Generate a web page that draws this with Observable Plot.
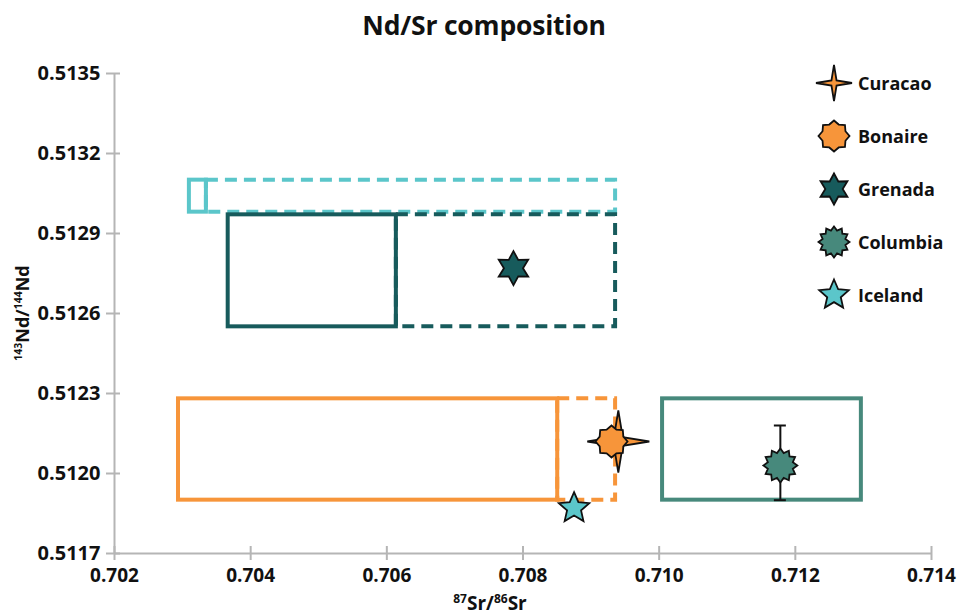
<!DOCTYPE html>
<html>
<head>
<meta charset="utf-8">
<script src="https://cdn.jsdelivr.net/npm/d3@7"></script>
<script src="https://cdn.jsdelivr.net/npm/@observablehq/plot@0.6"></script>
<style>
  html, body { margin: 0; padding: 0; background: #fff; }
  body { font-family: "Open Sans", sans-serif; }
  #wrap { position: relative; width: 960px; height: 616px; overflow: hidden; background: #fff; }
  #chart svg { position: absolute; left: 0; top: 0; z-index: 0; }
  #title { position: absolute; z-index: 2; left: 0; width: 968px; top: 7px; text-align: center;
           font-weight: 700; font-size: 26.5px; color: #111; letter-spacing: -0.2px; }
  .axlabel { position: absolute; z-index: 2; font-weight: 700; font-size: 19px; color: #111; white-space: nowrap; }
  .axlabel sup { font-size: 12px; vertical-align: 0; position: relative; top: -7px; }
  #xlabel { left: 0; width: 980px; text-align: center; top: 590px; }
  #ylabel { left: 22px; top: 313px; font-size: 18px; transform: translate(-50%, -50%) rotate(-90deg); }
  #ylabel sup { font-size: 10.5px; top: -7px; }
  #legend { position: absolute; z-index: 2; left: 812px; top: 56px; }
  .item { display: flex; align-items: center; height: 53px; }
  .item svg { width: 44px; height: 44px; }
  .item span { font-weight: 700; font-size: 18px; color: #111; margin-left: 2px; }
</style>
</head>
<body>
<div id="wrap">
  <div id="chart"></div>
  <div id="title">Nd/Sr composition</div>
  <div id="ylabel" class="axlabel"><sup>143</sup>Nd/<sup>144</sup>Nd</div>
  <div id="xlabel" class="axlabel"><sup>87</sup>Sr/<sup>86</sup>Sr</div>
  <div id="legend"></div>
</div>
<script>
// Sample sites, their isotope ratios and marker styles
const sites   = ["Curacao", "Bonaire", "Grenada", "Columbia", "Iceland"];
const srRatio = [0.70940, 0.70930, 0.70786, 0.71178, 0.70875];
const ndRatio = [0.51212, 0.51212, 0.51277, 0.51203, 0.51187];
const colors  = ["#F7953A", "#F7953A", "#175B5C", "#47897C", "#5BC6CA"];

// Columbia Nd uncertainty range
const columbiaNdLow  = 0.51190;
const columbiaNdHigh = 0.51218;

// Composition fields (solid = measured range, dashed = extended range)
const boxColor  = ["#5BC6CA", "#5BC6CA", "#175B5C", "#175B5C", "#F7953A", "#F7953A", "#47897C"];
const boxSr0    = [0.70335, 0.70310, 0.70614, 0.70367, 0.70851, 0.70294, 0.71005];
const boxSr1    = [0.70936, 0.70335, 0.70936, 0.70614, 0.70936, 0.70851, 0.71297];
const boxNd0    = [0.51298, 0.51298, 0.51255, 0.51255, 0.51190, 0.51190, 0.51190];
const boxNd1    = [0.51310, 0.51310, 0.51297, 0.51297, 0.51228, 0.51228, 0.51228];
const boxDashed = [true, false, true, false, true, false, false];

// Axis ticks
const xTicks = [0.702, 0.704, 0.706, 0.708, 0.710, 0.712, 0.714];
const yTicks = [0.5117, 0.5120, 0.5123, 0.5126, 0.5129, 0.5132, 0.5135];

// Star-shaped marker: n points, inner radius as a fraction of the outer one
function star(n, inner) {
  return {
    draw(context, size) {
      const R = Math.sqrt(size / Math.PI);
      for (let i = 0; i < 2 * n; i++) {
        const a = (i * Math.PI) / n - Math.PI / 2;
        const r = i % 2 === 0 ? R : R * inner;
        const px = r * Math.cos(a), py = r * Math.sin(a);
        if (i === 0) context.moveTo(px, py); else context.lineTo(px, py);
      }
      context.closePath();
    }
  };
}
const symbols = [star(4, 0.2), star(8, 0.8), star(6, 0.56), star(12, 0.76), star(5, 0.46)];
const radii   = [31, 16, 17, 17, 16];
const legendR = [18, 15.5, 15.5, 15.5, 15.5];

const boxes = boxColor.map((c, i) => ({c, x1: boxSr0[i], x2: boxSr1[i], y1: boxNd0[i], y2: boxNd1[i], dashed: boxDashed[i]}));
const dashedBoxes = boxes.filter(b => b.dashed);
const solidBoxes = boxes.filter(b => !b.dashed);

const idx = (name) => sites.indexOf(name);
const siteDot = (name) => {
  const i = idx(name);
  return Plot.dot([i], {
    x: d => srRatio[d], y: d => ndRatio[d],
    symbol: symbols[i], r: radii[i],
    fill: colors[i], stroke: "#111", strokeWidth: 1.8, strokeLinejoin: "miter"
  });
};

const axisColor = "#b5b5b5";
const ci = idx("Columbia");

const chart = Plot.plot({
  width: 960,
  height: 616,
  marginLeft: 114,
  marginRight: 29,
  marginTop: 73,
  marginBottom: 63,
  style: {fontFamily: "'Open Sans', sans-serif", fontSize: "20px", fontWeight: 700, color: "#111", background: "transparent"},
  x: {domain: [0.702, 0.714], label: null},
  y: {domain: [0.5117, 0.5135], label: null},
  marks: [
    // axis lines and crossing ticks
    Plot.ruleX([0.702], {stroke: axisColor, strokeWidth: 2}),
    Plot.ruleY([0.5117], {stroke: axisColor, strokeWidth: 2}),
    Plot.ruleY(yTicks, {y: d => d, x1: 0.702, x2: 0.702, insetLeft: -8, insetRight: -6, stroke: axisColor, strokeWidth: 2}),
    Plot.ruleX(xTicks, {x: d => d, y1: 0.5117, y2: 0.5117, insetTop: -7, insetBottom: -7, stroke: axisColor, strokeWidth: 2}),
    Plot.axisX(xTicks, {tickSize: 0, tickPadding: 15, tickFormat: d3.format(".3f"), fontSize: 19}),
    Plot.axisY(yTicks, {tickSize: 0, tickPadding: 14, tickFormat: d3.format(".4f"), fontSize: 20}),
    // composition fields
    Plot.rect(dashedBoxes, {x1: "x1", x2: "x2", y1: "y1", y2: "y2", fill: "none", stroke: "c", strokeWidth: 4, strokeDasharray: "12,7"}),
    Plot.rect(solidBoxes, {x1: "x1", x2: "x2", y1: "y1", y2: "y2", fill: "none", stroke: "c", strokeWidth: 4}),
    // sample markers
    siteDot("Grenada"),
    Plot.ruleX([ci], {x: d => srRatio[d], y1: columbiaNdLow, y2: columbiaNdHigh, stroke: "#111", strokeWidth: 2}),
    Plot.ruleY([columbiaNdLow, columbiaNdHigh], {y: d => d, x1: srRatio[ci], x2: srRatio[ci], insetLeft: -6, insetRight: -6, stroke: "#111", strokeWidth: 2}),
    siteDot("Columbia"),
    siteDot("Iceland"),
    siteDot("Curacao"),
    siteDot("Bonaire")
  ]
});
document.getElementById("chart").append(chart);

// Legend built from the same marker shapes
const legend = d3.select("#legend");
sites.forEach((name, i) => {
  const item = legend.append("div").attr("class", "item");
  const svg = item.append("svg").attr("viewBox", "-22 -22 44 44");
  svg.append("path")
    .attr("d", d3.symbol().type(symbols[i]).size(Math.PI * legendR[i] * legendR[i])())
    .attr("fill", colors[i]).attr("stroke", "#111").attr("stroke-width", 1.8);
  item.append("span").text(name);
});
</script>
</body>
</html>
